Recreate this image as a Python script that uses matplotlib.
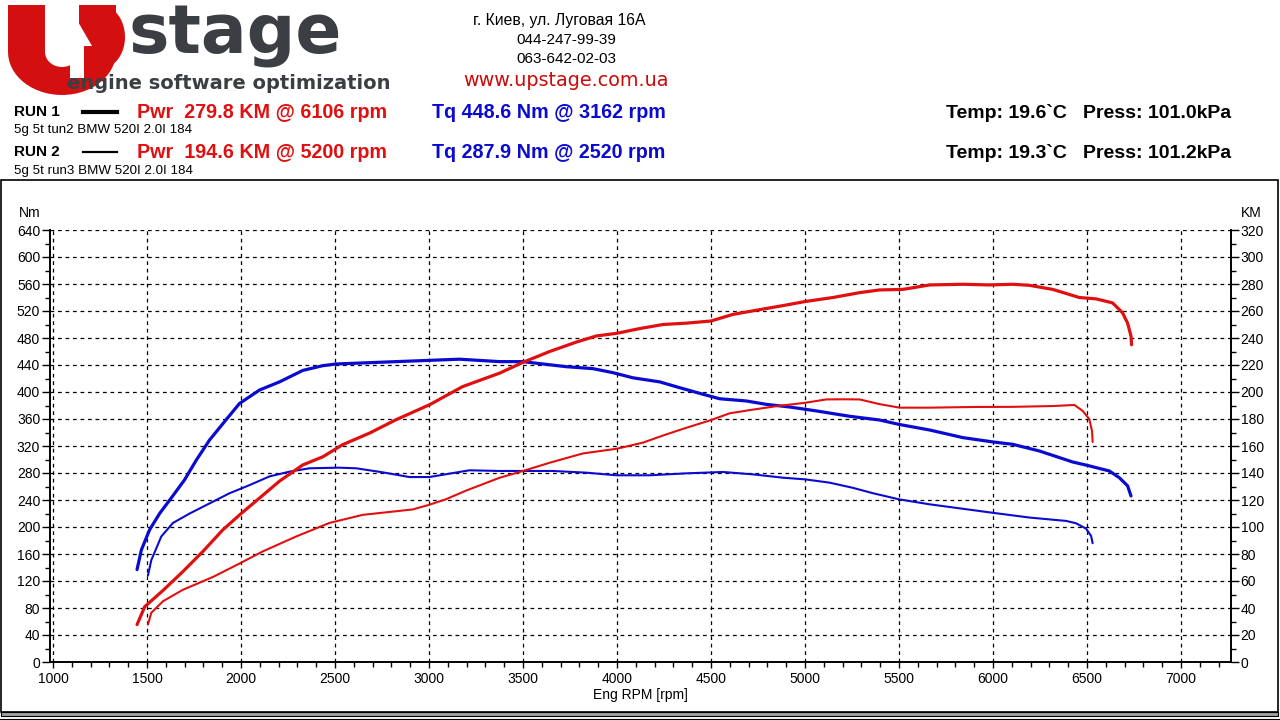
import numpy as np
import matplotlib
matplotlib.use("Agg")
import matplotlib.pyplot as plt
from matplotlib.patches import Polygon, Rectangle
from matplotlib.lines import Line2D

# run 1 (tuned) - torque Nm
rpm1_tq = [1447, 1470, 1514, 1567, 1629, 1700, 1762, 1833, 1921, 1992, 2099, 2205, 2329, 2435,
           2506, 2825, 3162, 3376, 3500, 3606, 3730, 3872, 3979, 4085, 4227, 4333, 4440, 4546,
           4688, 4794, 4918, 5060, 5238, 5397, 5500, 5663, 5840, 6000, 6105, 6247, 6424, 6500,
           6619, 6672, 6716, 6734]
tq1 = [137, 166, 196, 220, 243, 270, 299, 329, 359, 383, 403, 415, 432, 439,
       441.5, 445, 448.6, 445, 445, 441.5, 437.5, 434.6, 428.6, 421, 415, 406.4, 398, 390,
       386.7, 381.7, 377.8, 372, 364, 358.5, 352, 343.7, 332.4, 326, 322.5, 312.6, 296.3, 291.4,
       283, 273, 261, 246]
# run 1 - power KM
rpm1_pw = [1447, 1488, 1585, 1691, 1798, 1904, 2001, 2099, 2205, 2329, 2435, 2541, 2683, 2825,
           3002, 3179, 3376, 3500, 3642, 3784, 3890, 4000, 4121, 4245, 4369, 4500, 4617, 4759,
           4883, 5000, 5149, 5291, 5397, 5521, 5663, 5840, 5981, 6106, 6194, 6318, 6459, 6548,
           6636, 6689, 6716, 6734, 6737]
pw1 = [27.7, 41, 53, 67, 82, 98, 110, 121.5, 134, 146, 152, 161, 169.5, 179.5,
       190.5, 204, 214, 222, 230, 237, 241.5, 243.5, 247, 250, 251, 252.6, 257.5, 261,
       264, 267, 270, 273.6, 275.6, 276, 279.3, 279.8, 279.3, 279.8, 279, 276, 270, 269,
       266, 258.7, 251, 241.5, 235]

# run 2 (stock) - torque Nm
rpm2_tq = [1505, 1523, 1576, 1638, 1727, 1833, 1939, 2045, 2152, 2258, 2364, 2520, 2612, 2754,
           2896, 3002, 3108, 3215, 3376, 3500, 3660, 3837, 3996, 4174, 4369, 4564, 4723, 4883,
           5000, 5131, 5255, 5362, 5500, 5663, 5840, 6000, 6194, 6389, 6442, 6495, 6522, 6530]
tq2 = [128, 151, 186, 206, 220, 235, 250, 262, 275, 282, 287, 287.9, 287, 281,
       274, 274, 279, 284, 283, 283, 283, 280.5, 276.6, 276.6, 279.5, 281.5, 278, 273,
       270.6, 265.7, 258, 250, 241, 233.6, 227, 221, 214, 209, 205.5, 197.6, 186.7, 176]
# run 2 - power KM
rpm2_pw = [1505, 1523, 1585, 1691, 1851, 1993, 2117, 2294, 2470, 2648, 2913, 3002, 3091, 3198,
           3376, 3500, 3642, 3819, 4000, 4138, 4262, 4369, 4500, 4599, 4706, 4848, 5000, 5113,
           5200, 5291, 5397, 5504, 5663, 5893, 6105, 6318, 6433, 6477, 6512, 6527, 6530]
pw2 = [27.7, 36.5, 45, 53.5, 63, 73, 82, 93, 103, 109, 113, 116.5, 120.6, 127,
       136.5, 141.5, 147.6, 154.5, 158, 162.5, 168.6, 173.5, 179.2, 184.2, 186.6, 189.5, 192, 194.5,
       194.6, 194.5, 191, 188.4, 188.4, 188.9, 189, 189.6, 190.4, 186, 180, 171, 163]

RED = "#e01010"
BLUE = "#0a0ad0"

fig = plt.figure(figsize=(12.8, 7.2), dpi=100)
plt.rcParams["font.family"] = ["Liberation Sans", "DejaVu Sans"]

W, H = 1280.0, 720.0
def px(x, y):
    return (x / W, 1 - y / H)

# outer frame
fig.patches.append(Rectangle(px(1, 712), 1277 / W, 532 / H, transform=fig.transFigure,
                             fill=False, ec="black", lw=1.2))
fig.patches.append(Rectangle(px(1, 716), 1277 / W, 4 / H, transform=fig.transFigure,
                             fc="#a0a0a0", ec="black", lw=0.8))
fig.lines.append(Line2D([0, 1], [1 - 718.5 / H] * 2, transform=fig.transFigure, color="black", lw=0.8))

# logo
u_out = [(8, 5), (8, 52)]
for a in np.linspace(np.pi, 2 * np.pi, 30):
    u_out.append((62 + 54 * np.cos(a), 52 - 43 * np.sin(a)))
u_out += [(116, 52), (116, 5), (79, 5), (79, 52)]
for a in np.linspace(2 * np.pi, np.pi, 20):
    u_out.append((62 + 17 * np.cos(a), 52 - 15 * np.sin(a)))
u_out += [(45, 52), (45, 5)]
fig.patches.append(Polygon([px(*p) for p in u_out], closed=True, transform=fig.transFigure,
                           fc="#d40f0f", ec="none"))
d_shape = [(79, 5), (100, 5)]
for a in np.linspace(np.pi / 2, -np.pi / 2, 30):
    d_shape.append((100 + 25 * np.cos(a), 37 - 32 * np.sin(a)))
d_shape += [(79, 69)]
fig.patches.append(Polygon([px(*p) for p in d_shape], closed=True, transform=fig.transFigure,
                           fc="#d40f0f", ec="none"))
arrow = [(77, 20), (92, 46), (84, 46), (84, 78), (70, 78), (70, 46), (62, 46)]
fig.patches.append(Polygon([px(*p) for p in arrow], closed=True, transform=fig.transFigure,
                           fc="white", ec="none"))
fig.text(*px(128, 54), "stage", fontsize=49, fontweight="heavy", color="#3b3e42",
         family="DejaVu Sans", va="baseline", ha="left")
fig.text(*px(67, 89), "engine software optimization", fontsize=14, fontweight="bold",
         color="#3b3e42", family="DejaVu Sans", va="baseline", ha="left")

# contacts
fig.text(*px(559, 20), "г. Киев, ул. Луговая 16А", fontsize=11.3, ha="center", va="center")
fig.text(*px(566, 40), "044-247-99-39", fontsize=11, ha="center", va="center")
fig.text(*px(566, 59), "063-642-02-03", fontsize=11, ha="center", va="center")
fig.text(*px(566, 81), "www.upstage.com.ua", fontsize=13.8, ha="center", va="center",
         color="#cc0a0a", family="DejaVu Sans")

# header rows
rows = [("RUN 1", 112, 130, "5g 5t tun2 BMW 520I 2.0I 184", 3.0,
         "Pwr  279.8 KM @ 6106 rpm", "Tq 448.6 Nm @ 3162 rpm", "Temp: 19.6`C   Press: 101.0kPa"),
        ("RUN 2", 152, 171, "5g 5t run3 BMW 520I 2.0I 184", 1.6,
         "Pwr  194.6 KM @ 5200 rpm", "Tq 287.9 Nm @ 2520 rpm", "Temp: 19.3`C   Press: 101.2kPa")]
for name, yy, ysub, sub, lw, pwr, tq, amb in rows:
    fig.text(*px(14, yy), name, fontsize=11, fontweight="bold", va="center")
    fig.lines.append(Line2D([83 / W, 117 / W], [1 - yy / H] * 2, transform=fig.transFigure,
                            color="black", lw=lw))
    fig.text(*px(137, yy), pwr, fontsize=14.2, fontweight="bold", color=RED, va="center")
    fig.text(*px(432, yy), tq, fontsize=14.2, fontweight="bold", color=BLUE, va="center")
    fig.text(*px(946, yy + 1), amb, fontsize=14, fontweight="bold", va="center")
    fig.text(*px(14, ysub), sub, fontsize=9.6, va="center")

# main plot
ax = fig.add_axes([50 / W, 1 - 662 / H, 1181 / W, 432 / H])
ax2 = ax.twinx()

ax.plot(rpm1_tq, tq1, color=BLUE, lw=2.3, solid_capstyle="round")
ax.plot(rpm2_tq, tq2, color=BLUE, lw=1.5, solid_capstyle="round")
ax2.plot(rpm1_pw, pw1, color=RED, lw=2.3, solid_capstyle="round")
ax2.plot(rpm2_pw, pw2, color=RED, lw=1.5, solid_capstyle="round")

ax.set_xlim(984, 7266)
ax.set_ylim(0, 640)
ax2.set_ylim(0, 320)
ax.set_xticks(np.arange(1000, 7001, 500))
ax.set_xticks(np.arange(1000, 7201, 100), minor=True)
ax.set_yticks(np.arange(0, 641, 40))
ax.set_yticks(np.arange(0, 641, 20), minor=True)
ax2.set_yticks(np.arange(0, 321, 20))
ax2.set_yticks(np.arange(0, 321, 10), minor=True)

ax.grid(True, which="major", color="black", linestyle=(0, (3, 3)), lw=0.9)
ax.set_axisbelow(True)
for a in (ax, ax2):
    a.spines["top"].set_visible(False)
    for s in ("left", "right", "bottom"):
        a.spines[s].set_linewidth(1.2)
ax.tick_params(axis="both", which="major", direction="out", length=6, width=1, labelsize=10, pad=1)
ax.tick_params(axis="both", which="minor", direction="out", length=3.5, width=1)
ax.tick_params(axis="x", which="major", length=4.5, pad=3)
ax2.tick_params(axis="y", which="major", direction="out", length=6, width=1, labelsize=10, pad=1)
ax2.tick_params(axis="y", which="minor", direction="out", length=3.5, width=1)

ax.set_xlabel("Eng RPM [rpm]", fontsize=10, labelpad=1)
fig.text(*px(30, 213), "Nm", fontsize=10, ha="center", va="center")
fig.text(*px(1251, 213), "KM", fontsize=10, ha="center", va="center")

fig.savefig("out.png", dpi=100)
